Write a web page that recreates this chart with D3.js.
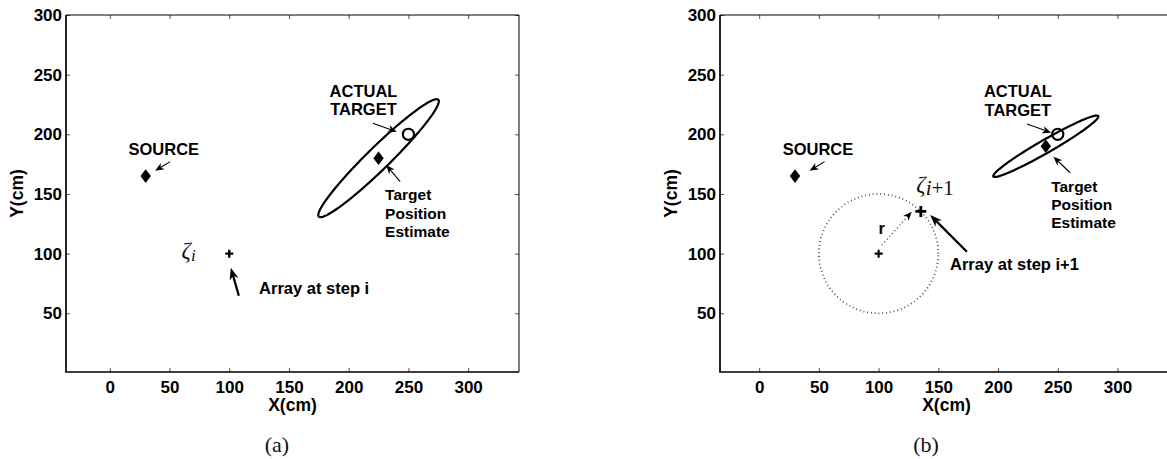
<!DOCTYPE html>
<html>
<head>
<meta charset="utf-8">
<script src="https://cdn.jsdelivr.net/npm/d3@7"></script>
<style>
  html, body { margin: 0; padding: 0; background: #fff; }
  svg text.sans { font-family: "Liberation Sans", Arial, Helvetica, sans-serif; font-weight: bold; fill: #000; }
  svg text.serif { font-family: "Liberation Serif", "Times New Roman", serif; fill: #111; }
</style>
</head>
<body>
<svg id="fig" width="1167" height="459"></svg>
<script>
// ---- axis content ----
const xTicks = [0, 50, 100, 150, 200, 250, 300];
const yTicks = [50, 100, 150, 200, 250, 300];
const xLabel = "X(cm)";
const yLabel = "Y(cm)";
const panelTags = ["(a)", "(b)"];

// ---- scene (cm) ----
const sourcePos = [30, 165];
const targetPos = [250, 200];
const arrayPos = [100, 100];      // array location at step i
const stepRadius = 50;            // move radius r
const stepAngle = 45;             // heading of the move (deg)

// target estimates and their uncertainty ellipses
const estimateA = [225, 180];
const ellipseAxesA = [70, 9.5];   // semi-major, semi-minor (cm)
const ellipseTiltA = 44.4;        // deg
const estimateB = [240, 190];
const ellipseAxesB = [50.7, 5.5];
const ellipseTiltB = 29.9;

// ---- annotation text ----
const sourceText = "SOURCE";
const targetText = ["ACTUAL", "TARGET"];
const estimateText = ["Target", "Position", "Estimate"];
const arrayTextA = "Array at step i";
const arrayTextB = "Array at step i+1";

const newArrayPos = [
  arrayPos[0] + stepRadius * Math.cos(stepAngle * Math.PI / 180),
  arrayPos[1] + stepRadius * Math.sin(stepAngle * Math.PI / 180)
];

const svg = d3.select("#fig");

function ellipsePoints(c, axes, tiltDeg) {
  const th = tiltDeg * Math.PI / 180;
  return d3.range(0, 361, 2).map(d => {
    const t = d * Math.PI / 180;
    const u = axes[0] * Math.cos(t), v = axes[1] * Math.sin(t);
    return [c[0] + u * Math.cos(th) - v * Math.sin(th), c[1] + u * Math.sin(th) + v * Math.cos(th)];
  });
}

function circlePoints(c, r) {
  return d3.range(0, 361, 2).map(d => {
    const t = d * Math.PI / 180;
    return [c[0] + r * Math.cos(t), c[1] + r * Math.sin(t)];
  });
}

function drawPanel(cfg) {
  const x = d3.scaleLinear().domain(cfg.xDomain).range([cfg.left, cfg.right]);
  const y = d3.scaleLinear().domain(cfg.yDomain).range([cfg.bottom, cfg.top]);
  const g = svg.append("g");
  const line = d3.line().x(d => x(d[0])).y(d => y(d[1]));

  // axes with inward ticks
  const tickCol = "#555";
  const ax = [
    g.append("g").attr("transform", `translate(0,${cfg.bottom})`)
      .call(d3.axisBottom(x).tickValues(xTicks).tickSize(-4).tickSizeOuter(0).tickPadding(8.5)),
    g.append("g").attr("transform", `translate(0,${cfg.top})`)
      .call(d3.axisTop(x).tickValues(xTicks).tickSize(-4).tickSizeOuter(0).tickFormat("")),
    g.append("g").attr("transform", `translate(${cfg.left},0)`)
      .call(d3.axisLeft(y).tickValues(yTicks).tickSize(-4).tickSizeOuter(0).tickPadding(4)),
    g.append("g").attr("transform", `translate(${cfg.right},0)`)
      .call(d3.axisRight(y).tickValues(yTicks).tickSize(-4).tickSizeOuter(0).tickFormat(""))
  ];
  ax.forEach(a => {
    a.select(".domain").remove();
    a.selectAll(".tick line").attr("stroke", tickCol).attr("stroke-width", 1);
    a.selectAll(".tick text").attr("class", "sans").attr("font-size", 17)
      .attr("font-family", null).attr("fill", "#000");
  });

  // frame
  g.append("path").attr("fill", "none").attr("stroke", "#000").attr("stroke-width", 1)
    .attr("d", `M${cfg.left},${cfg.top}H${cfg.right}V${cfg.bottom}`);
  g.append("path").attr("fill", "none").attr("stroke", "#000").attr("stroke-width", 1.7)
    .attr("d", `M${cfg.left},${cfg.top}V${cfg.bottom}H${cfg.right}`);

  // axis titles
  g.append("text").attr("class", "sans").attr("font-size", 17.5)
    .attr("x", (cfg.left + cfg.right) / 2).attr("y", 411)
    .attr("text-anchor", "middle").text(xLabel);
  g.append("text").attr("class", "sans").attr("font-size", 17.5)
    .attr("transform", `translate(${cfg.left - 43},${(cfg.top + cfg.bottom) / 2}) rotate(-90)`)
    .attr("text-anchor", "middle").text(yLabel);

  // panel tag
  g.append("text").attr("class", "serif").attr("font-size", 22)
    .attr("x", cfg.tagX).attr("y", 452).attr("text-anchor", "middle").text(cfg.tag);

  return { g, x, y, line };
}

function arrow(p, from, to, thick) {
  const x0 = p.x(from[0]), y0 = p.y(from[1]);
  const x1 = p.x(to[0]), y1 = p.y(to[1]);
  const len = Math.hypot(x1 - x0, y1 - y0);
  const ux = (x1 - x0) / len, uy = (y1 - y0) / len;
  const nx = -uy, ny = ux;
  const L = thick ? 12 : 9, W = thick ? 4.6 : 3.7;
  const sw = thick ? 2.3 : 1.1;
  p.g.append("line").attr("x1", x0).attr("y1", y0)
    .attr("x2", x1 - ux * L * 0.6).attr("y2", y1 - uy * L * 0.6)
    .attr("stroke", "#000").attr("stroke-width", sw);
  const pts = [
    [x1, y1],
    [x1 - ux * L + nx * W, y1 - uy * L + ny * W],
    [x1 - ux * L * 0.7, y1 - uy * L * 0.7],
    [x1 - ux * L - nx * W, y1 - uy * L - ny * W]
  ];
  p.g.append("path").attr("d", "M" + pts.map(q => q.join(",")).join("L") + "Z").attr("fill", "#000");
}

function diamond(p, pos) {
  const cx = p.x(pos[0]), cy = p.y(pos[1]);
  p.g.append("path").attr("fill", "#000")
    .attr("d", `M${cx},${cy - 6.8}L${cx + 5.2},${cy}L${cx},${cy + 6.8}L${cx - 5.2},${cy}Z`);
}

function plus(p, pos, s, sw) {
  const cx = p.x(pos[0]), cy = p.y(pos[1]);
  p.g.append("path").attr("stroke", "#000").attr("stroke-width", sw)
    .attr("d", `M${cx - s},${cy}H${cx + s}M${cx},${cy - s}V${cy + s}`);
}

function ring(p, pos) {
  p.g.append("circle").attr("cx", p.x(pos[0])).attr("cy", p.y(pos[1])).attr("r", 5.6)
    .attr("fill", "none").attr("stroke", "#000").attr("stroke-width", 2.1);
}

function label(p, pos, txt, size, anchor) {
  p.g.append("text").attr("class", "sans").attr("font-size", size)
    .attr("x", p.x(pos[0])).attr("y", p.y(pos[1]))
    .attr("text-anchor", anchor || "start").text(txt);
}

function zeta(p, pos, sub, subSize) {
  const t = p.g.append("text").attr("class", "serif").attr("font-style", "italic")
    .attr("x", p.x(pos[0])).attr("y", p.y(pos[1])).attr("font-size", 23);
  t.append("tspan").text("ζ");
  t.append("tspan").attr("font-size", subSize).attr("dy", 3).text(sub[0]);
  if (sub.length > 1) t.append("tspan").attr("font-size", subSize).attr("font-style", "normal").text(sub.slice(1));
}

function drawEllipse(p, c, axes, tilt) {
  p.g.append("path").attr("d", p.line(ellipsePoints(c, axes, tilt)) + "Z")
    .attr("fill", "none").attr("stroke", "#000").attr("stroke-width", 2.2);
}

// ---------- panel (a) ----------
const pa = drawPanel({ left: 66, right: 519, top: 15, bottom: 372,
  xDomain: [-36.7, 342.6], yDomain: [0.8, 300], tag: panelTags[0], tagX: 277 });

drawEllipse(pa, estimateA, ellipseAxesA, ellipseTiltA);
diamond(pa, sourcePos);
diamond(pa, estimateA);
ring(pa, targetPos);
plus(pa, arrayPos, 4, 2.3);

label(pa, [45.2, 182.7], sourceText, 16.5, "middle");
arrow(pa, [50.5, 177.1], [37.9, 169.5], false);
label(pa, [212.4, 231.5], targetText[0], 16.5, "middle");
label(pa, [212.4, 216.2], targetText[1], 16.5, "middle");
arrow(pa, [220.2, 209.2], [240.3, 202.2], false);
label(pa, [230.5, 145.0], estimateText[0], 15.5);
label(pa, [230.5, 128.8], estimateText[1], 15.5);
label(pa, [230.5, 114.2], estimateText[2], 15.5);
arrow(pa, [243.1, 160.3], [231.4, 174.3], false);
zeta(pa, [60.1, 96.3], "i", 17);
arrow(pa, [108.0, 64.7], [101.3, 88.2], true);
label(pa, [125, 65.8], arrayTextA, 16.5);

// ---------- panel (b) ----------
const pb = drawPanel({ left: 720, right: 1173, top: 15, bottom: 372,
  xDomain: [-32.8, 346.5], yDomain: [0.8, 300], tag: panelTags[1], tagX: 926 });

// reachable circle of radius r around the current array position
pb.g.append("path").attr("d", pb.line(circlePoints(arrayPos, stepRadius)) + "Z")
  .attr("fill", "none").attr("stroke", "#333").attr("stroke-width", 1.8)
  .attr("stroke-dasharray", "0.8,3");

drawEllipse(pb, estimateB, ellipseAxesB, ellipseTiltB);
diamond(pb, sourcePos);
diamond(pb, estimateB);
ring(pb, targetPos);
plus(pb, arrayPos, 4, 2.1);
plus(pb, newArrayPos, 5.5, 2.8);

// radius vector r
(function () {
  const from = [102.7, 107.2], to = [127.8, 135.1];
  const x0 = pb.x(from[0]), y0 = pb.y(from[1]), x1 = pb.x(to[0]), y1 = pb.y(to[1]);
  const len = Math.hypot(x1 - x0, y1 - y0);
  const ux = (x1 - x0) / len, uy = (y1 - y0) / len, nx = -uy, ny = ux;
  const L = 9, W = 3.6;
  pb.g.append("line").attr("x1", x0).attr("y1", y0).attr("x2", x1 - ux * L * 0.6).attr("y2", y1 - uy * L * 0.6)
    .attr("stroke", "#333").attr("stroke-width", 1.6).attr("stroke-dasharray", "0.8,3");
  const pts = [[x1, y1], [x1 - ux * L + nx * W, y1 - uy * L + ny * W],
    [x1 - ux * L * 0.7, y1 - uy * L * 0.7], [x1 - ux * L - nx * W, y1 - uy * L - ny * W]];
  pb.g.append("path").attr("d", "M" + pts.map(q => q.join(",")).join("L") + "Z").attr("fill", "#000");
})();
label(pb, [102.7, 116.5], "r", 16.5, "middle");

label(pb, [49.2, 182.7], sourceText, 16.5, "middle");
arrow(pb, [54.8, 177.1], [42.2, 169.5], false);
label(pb, [216.6, 231.5], targetText[0], 16.5, "middle");
label(pb, [216.6, 215.4], targetText[1], 16.5, "middle");
arrow(pb, [224.2, 208.6], [244.5, 201.4], false);
label(pb, [244.5, 151.9], estimateText[0], 15.5);
label(pb, [244.5, 136.6], estimateText[1], 15.5);
label(pb, [244.5, 121.7], estimateText[2], 15.5);
arrow(pb, [260.4, 167.8], [246.4, 181.2], false);
zeta(pb, [131.6, 152], "i+1", 21);
arrow(pb, [173.9, 101.6], [143.2, 132.4], true);
label(pb, [159.8, 86.3], arrayTextB, 16.5);
</script>
</body>
</html>
